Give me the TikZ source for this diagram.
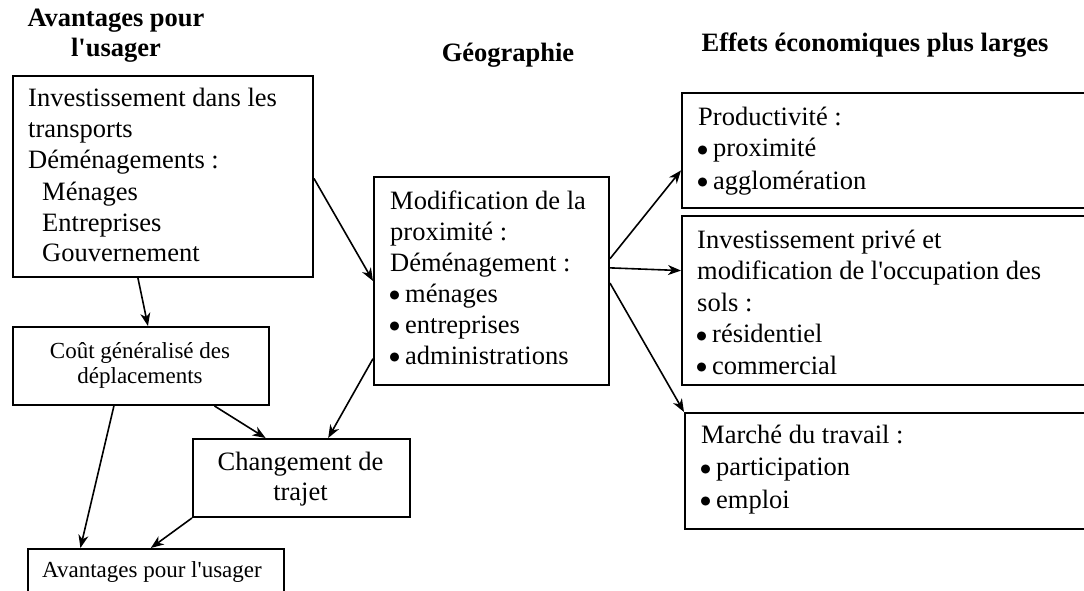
\documentclass[tikz,border=0pt]{standalone}
\usepackage{fontspec}
\setmainfont{Liberation Serif}[Ligatures=TeXOff]
\usetikzlibrary{arrows.meta,calc}

% text sizes (1pt = 1 unit of the drawing)
\newcommand\bodyfont{\fontsize{26.5}{31}\selectfont}
\newcommand\smallfont{\fontsize{23}{25}\selectfont}
\newcommand\headfont{\fontsize{26.5}{30}\selectfont\bfseries}
% list item with a round bullet
\newcommand\itm[1]{{\setlength{\unitlength}{1pt}\begin{picture}(15,0)\put(4.5,6.5){\circle*{9}}\end{picture}}#1}
\newcommand\ind{\hspace*{14pt}}

\tikzset{
  box/.style={draw, line width=2pt, anchor=north west, inner sep=0pt},
  txt/.style={anchor=base west, inner sep=0pt},
  ctxt/.style={anchor=base, inner sep=0pt},
  link/.style={line width=1.6pt, -{Stealth[length=13pt, width=10pt, inset=4pt]}},
}

\begin{document}
\begin{tikzpicture}[x=1pt, y=-1pt]
\useasboundingbox (0,0) rectangle (1084,591);
\clip (0,0) rectangle (1084,591);

% column headings
\node[ctxt, font=\headfont, align=center] (h1) at (116,27)
  {\begin{tabular}[t]{@{}c@{}}Avantages pour\\l'usager\end{tabular}};
\node[ctxt, font=\headfont] (h2) at (508,62) {Géographie};
\node[ctxt, font=\headfont] (h3) at (875,52) {Effets économiques plus larges};

% frames
\node[box, minimum width=300pt, minimum height=201pt] (inv)  at (12,75)  {};
\node[box, minimum width=256pt, minimum height=78pt]  (cout) at (12,326) {};
\node[box, minimum width=217pt, minimum height=78pt]  (chg)  at (192,438) {};
\node[box, minimum width=256pt, minimum height=80pt]  (avu)  at (27,548) {};
\node[box, minimum width=235pt, minimum height=208pt] (mod)  at (373,176) {};
\node[box, minimum width=429pt, minimum height=115pt] (prod) at (681,92) {};
\node[box, minimum width=429pt, minimum height=169pt] (inv2) at (681,215) {};
\node[box, minimum width=426pt, minimum height=116pt] (mar)  at (684,412) {};

% frame contents
\node[txt, font=\bodyfont] (tinv) at (28,107)
  {\begin{tabular}[t]{@{}l@{}}Investissement dans les\\transports\\Déménagements :\\
   \ind Ménages\\\ind Entreprises\\\ind Gouvernement\end{tabular}};
\node[ctxt, font=\smallfont] (tcout) at (140,358)
  {\begin{tabular}[t]{@{}c@{}}Coût généralisé des\\déplacements\end{tabular}};
\node[ctxt, font=\fontsize{26.5}{30}\selectfont] (tchg) at (300.5,470)
  {\begin{tabular}[t]{@{}c@{}}Changement de\\trajet\end{tabular}};
\node[ctxt, font=\smallfont] (tavu) at (152,577) {Avantages pour l'usager};
\node[txt, font=\bodyfont] (tmod) at (390,209)
  {\begin{tabular}[t]{@{}l@{}}Modification de la\\proximité :\\Déménagement :\\
   \itm{ménages}\\\itm{entreprises}\\\itm{administrations}\end{tabular}};
\node[txt, font=\fontsize{26.5}{32}\selectfont] (tprod) at (698,125)
  {\begin{tabular}[t]{@{}l@{}}Productivité :\\\itm{proximité}\\\itm{agglomération}\end{tabular}};
\node[txt, font=\fontsize{26.5}{31.5}\selectfont] (tinv2) at (697,248)
  {\begin{tabular}[t]{@{}l@{}}Investissement privé et\\modification de l'occupation des\\sols :\\
   \itm{résidentiel}\\\itm{commercial}\end{tabular}};
\node[txt, font=\fontsize{26.5}{32.5}\selectfont] (tmar) at (701,443)
  {\begin{tabular}[t]{@{}l@{}}Marché du travail :\\\itm{participation}\\\itm{emploi}\end{tabular}};

% connectors
\draw[link] ($(inv.north east)!0.51!(inv.south east)$) -- (mod.west);
\draw[link] ($(inv.south west)!0.417!(inv.south east)$) -- ($(cout.north west)!0.527!(cout.north east)$);
\draw[link] ($(cout.south west)!0.395!(cout.south east)$) -- ($(avu.north west)!0.207!(avu.north east)$);
\draw[link] ($(cout.south west)!0.785!(cout.south east)$) -- ($(chg.north west)!0.336!(chg.north east)$);
\draw[link] ($(mod.north west)!0.87!(mod.south west)$) -- ($(chg.north west)!0.622!(chg.north east)$);
\draw[link] (chg.south west) -- ($(avu.north west)!0.48!(avu.north east)$);
\draw[link] ($(mod.north east)!0.394!(mod.south east)$) -- ($(prod.north west)!0.67!(prod.south west)$);
\draw[link] ($(mod.north east)!0.4375!(mod.south east)$) -- ($(inv2.north west)!0.325!(inv2.south west)$);
\draw[link] ($(mod.north east)!0.51!(mod.south east)$) -- (mar.north west);
\end{tikzpicture}
\end{document}
